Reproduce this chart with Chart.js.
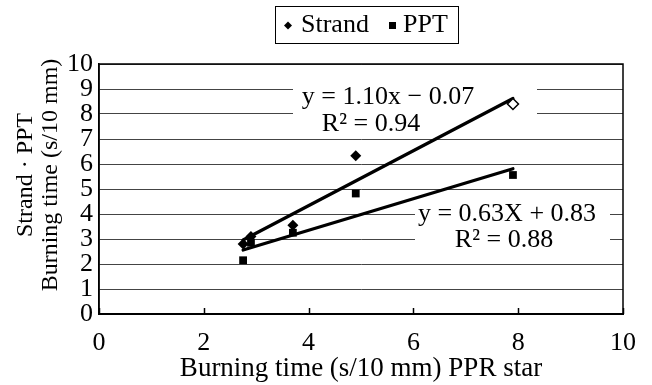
<!DOCTYPE html>
<html><head><meta charset="utf-8">
<script src="https://cdn.jsdelivr.net/npm/chart.js@4"></script>
<style>html,body{margin:0;padding:0;background:#fff}#wrap{width:652px;height:385px}</style>
</head><body><div id="wrap"><canvas id="c" width="652" height="385"></canvas></div>
<script>
// ---- data ----
const pprStar      = [2.75, 2.9, 3.7, 4.9, 7.9];     // x: PPR star burning time
const strandTime   = [2.8, 3.1, 3.55, 6.33, 8.4];    // Strand (diamonds)
const pptTime      = [2.15, 2.85, 3.25, 4.82, 5.56]; // PPT (squares)
const trendX       = [2.75, 7.9];                    // trendline end points (x)
const strandTrendY = [2.96, 8.62];                   // Strand trendline end points (y)
const pptTrendY    = [2.56, 5.81];                   // PPT trendline end points (y)
const xTicks = [0, 2, 4, 6, 8, 10];
const yTicks = [0, 1, 2, 3, 4, 5, 6, 7, 8, 9, 10];
const seriesNames = ['Strand', 'PPT'];
const strandEq = ['y = 1.10x \u2212 0.07', 'R\u00B2 = 0.94'];
const pptEq    = ['y = 0.63X + 0.83', 'R\u00B2 = 0.88'];
const xTitle = 'Burning time (s/10 mm) PPR star';
const yTitle = ['Strand \u00B7 PPT', 'Burning time (s/10 mm)'];

const FONT = "'Liberation Serif','Times New Roman',serif";
const toPts = (xs, ys) => xs.map((x, i) => ({x, y: ys[i]}));

const decor = {
  id: 'decor',
  beforeDatasetsDraw(chart) {
    const {ctx, chartArea: a} = chart;
    ctx.save();
    // white backgrounds of the equation labels
    ctx.fillStyle = '#fff';
    ctx.fillRect(293, 78, 244, 52);
    ctx.fillRect(415, 198, 195, 54);
    // plot frame
    ctx.strokeStyle = '#000';
    ctx.lineWidth = 1.5;
    ctx.strokeRect(a.left, a.top, a.right - a.left, a.bottom - a.top);
    // inward x tick marks
    const xs = chart.scales.x;
    xTicks.forEach(v => {
      const px = Math.round(xs.getPixelForValue(v)) + 0.5;
      ctx.beginPath(); ctx.moveTo(px, a.bottom); ctx.lineTo(px, a.bottom - 6); ctx.stroke();
    });
    // equation labels
    ctx.fillStyle = '#000';
    ctx.font = '26px ' + FONT;
    ctx.textAlign = 'center';
    ctx.textBaseline = 'middle';
    ctx.fillText(strandEq[0], 388, 97);
    ctx.fillText(strandEq[1], 371, 124);
    ctx.fillText(pptEq[0], 507, 214);
    ctx.fillText(pptEq[1], 504, 240);
    ctx.restore();
  },
  afterDraw(chart) {
    const {ctx} = chart;
    ctx.save();
    // y-axis title (two lines, rotated)
    ctx.fillStyle = '#000';
    ctx.font = '24px ' + FONT;
    ctx.textAlign = 'center';
    ctx.textBaseline = 'middle';
    [[yTitle[0], 26], [yTitle[1], 51]].forEach(([t, x]) => {
      ctx.save(); ctx.translate(x, 175); ctx.rotate(-Math.PI / 2); ctx.fillText(t, 0, 0); ctx.restore();
    });
    // legend box
    ctx.font = '26px ' + FONT;
    ctx.textAlign = 'left';
    const bx = 275, by = 6, bw = 183, bh = 37;
    ctx.strokeStyle = '#000'; ctx.lineWidth = 1;
    ctx.strokeRect(bx + 0.5, by + 0.5, bw, bh);
    const cy = by + bh / 2 + 1;
    ctx.beginPath();
    ctx.moveTo(288, cy - 4); ctx.lineTo(292, cy); ctx.lineTo(288, cy + 4); ctx.lineTo(284, cy); ctx.closePath();
    ctx.fill();
    ctx.fillText(seriesNames[0], 301, cy);
    ctx.fillRect(389, cy - 3.5, 7, 7);
    ctx.fillText(seriesNames[1], 403, cy);
    ctx.restore();
  }
};

new Chart(document.getElementById('c'), {
  type: 'scatter',
  data: {
    datasets: [
      {label: seriesNames[0], data: toPts(pprStar, strandTime), pointStyle: 'rectRot', pointRadius: 5.5,
       backgroundColor: strandTime.map((v, i) => i === strandTime.length - 1 ? '#fff' : '#000'),
       borderColor: '#000', borderWidth: strandTime.map((v, i) => i === strandTime.length - 1 ? 1.5 : 0)},
      {label: seriesNames[1], data: toPts(pprStar, pptTime), pointStyle: 'rect', pointRadius: 5.5,
       backgroundColor: '#000', borderColor: '#000', borderWidth: 0},
      {label: 'Strand trend', data: toPts(trendX, strandTrendY), showLine: true, pointRadius: 0,
       borderColor: '#000', borderWidth: 3.2, borderCapStyle: 'round'},
      {label: 'PPT trend', data: toPts(trendX, pptTrendY), showLine: true, pointRadius: 0,
       borderColor: '#000', borderWidth: 3.2, borderCapStyle: 'round'}
    ]
  },
  options: {
    responsive: false,
    animation: false,
    devicePixelRatio: 1,
    layout: {padding: {left: 0, right: 29, top: 64, bottom: 0}},
    plugins: {legend: {display: false}, tooltip: {enabled: false}},
    scales: {
      x: {
        type: 'linear', min: 0, max: 10,
        afterBuildTicks: s => { s.ticks = xTicks.map(v => ({value: v})); },
        afterFit: s => { s.height = 71; },
        grid: {display: false, drawTicks: false},
        border: {color: '#000', width: 2},
        ticks: {color: '#000', font: {family: FONT, size: 26}, padding: 14, maxRotation: 0},
        title: {display: true, text: xTitle, color: '#000', font: {family: FONT, size: 27, lineHeight: 1.2},
                padding: {top: 0, bottom: 0}}
      },
      y: {
        type: 'linear', min: 0, max: 10,
        afterBuildTicks: s => { s.ticks = yTicks.map(v => ({value: v})); },
        afterFit: s => { s.width = 99; },
        grid: {color: '#444', lineWidth: 1, drawTicks: false},
        border: {color: '#000', width: 1.5},
        ticks: {color: '#000', font: {family: FONT, size: 26, lineHeight: 1}, padding: 6, autoSkip: false}
      }
    }
  },
  plugins: [decor]
});
</script>
</body></html>
